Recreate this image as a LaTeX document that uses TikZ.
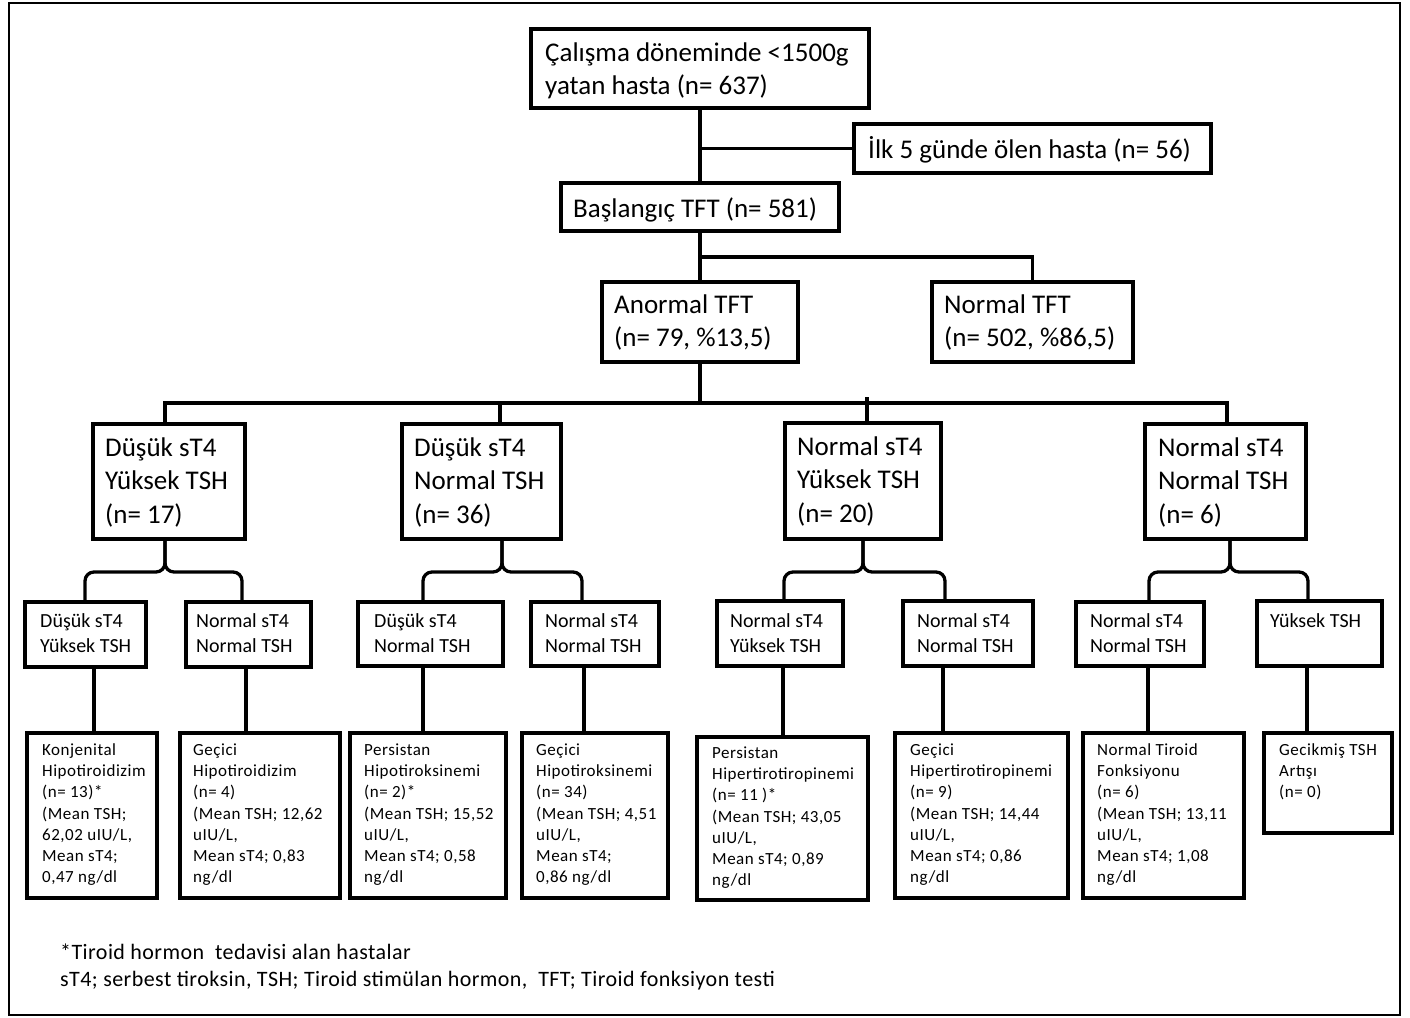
\documentclass[tikz,border=0pt]{standalone}
\usepackage{fontspec}
\setmainfont{Carlito}
\newfontfamily\smallfnt[LetterSpace=3]{Carlito}
\newfontfamily\footfnt[LetterSpace=2]{Carlito}
\newcommand\fntA{\fontsize{27}{33.5}\selectfont}
\newcommand\fntB{\fontsize{20}{25}\selectfont}
\newcommand\fntC{\smallfnt\fontsize{17}{21.2}\selectfont}
\newcommand\fntD{\footfnt\fontsize{22}{27.5}\selectfont}
\tikzset{
  boxst/.style={draw, line width=4pt, anchor=north west, inner sep=0pt, outer sep=0pt},
  txt/.style={anchor=base west, inner sep=0pt},
  conn/.style={draw, line width=3.3pt}
}
\newcommand\mybox[5]{\node[boxst, minimum width={#4-#2}, minimum height={#5-#3}] (#1) at (#2,#3) {};}
\newcommand\mytext[5]{\node[txt, font=#4] (#1t) at (#2,#3) {\begin{tabular}[t]{@{}l@{}}#5\end{tabular}};}
\newcommand\brc[6]{%
  \coordinate (#1s) at (#4,572); \coordinate (#1l) at (#5,572); \coordinate (#1r) at (#6,572);
  \draw[conn,rounded corners=9] (#1.south -| #1s) -- (#1s) -- (#1l) -- (#2.north -| #1l);
  \draw[conn,rounded corners=9] (#1.south -| #1s) -- (#1s) -- (#1r) -- (#3.north -| #1r);}
\newcommand\vc[3]{\coordinate (#1v) at (#3,0); \draw[conn] (#1.south -| #1v) -- (#2.north -| #1v);}
\begin{document}
\begin{tikzpicture}[x=1pt,y=-1pt]
\useasboundingbox (0,0) rectangle (1410,1017);
\draw[line width=1.3pt] (9,3) rectangle (1400,1015);

% top levels
\mybox{T0}{531}{29}{869}{108}
\mytext{T0}{545}{61}{\fntA}{Çalışma döneminde <1500g\\yatan hasta (n= 637)}
\mybox{D}{854}{124}{1211}{173}
\mytext{D}{868}{158}{\fntA}{İlk 5 günde ölen hasta (n= 56)}
\mybox{B}{561}{183}{839}{231}
\mytext{B}{573}{217}{\fntA}{Başlangıç TFT (n= 581)}
\mybox{A}{602}{282}{798}{362}
\mytext{A}{614}{313}{\fntA}{Anormal TFT\\(n= 79, \%13,5)}
\mybox{N}{932}{282}{1133}{362}
\mytext{N}{944}{313}{\fntA}{Normal TFT\\(n= 502, \%86,5)}

% level 3
\mybox{L3a}{93}{424}{245}{539}
\mytext{L3a}{105}{456}{\fntA}{Düşük sT4\\Yüksek TSH\\(n= 17)}
\mybox{L3b}{402}{424}{561}{539}
\mytext{L3b}{414}{456}{\fntA}{Düşük sT4\\Normal TSH\\(n= 36)}
\mybox{L3c}{785}{423}{941}{539}
\mytext{L3c}{797}{455}{\fntA}{Normal sT4\\Yüksek TSH\\(n= 20)}
\mybox{L3d}{1145}{424}{1306}{539}
\mytext{L3d}{1158}{456}{\fntA}{Normal sT4\\Normal TSH\\(n= 6)}

% level 4
\mybox{L4a}{25}{602}{146}{667}
\mytext{L4a}{40}{627.5}{\fntB}{Düşük sT4\\Yüksek TSH}
\mybox{L4b}{186}{602}{311}{667}
\mytext{L4b}{196}{627.5}{\fntB}{Normal sT4\\Normal TSH}
\mybox{L4c}{358}{602}{503}{666}
\mytext{L4c}{374}{627.5}{\fntB}{Düşük sT4\\Normal TSH}
\mybox{L4d}{531}{602}{659}{666}
\mytext{L4d}{545}{627.5}{\fntB}{Normal sT4\\Normal TSH}
\mybox{L4e}{717}{601}{843}{666}
\mytext{L4e}{730}{627.5}{\fntB}{Normal sT4\\Yüksek TSH}
\mybox{L4f}{903}{601}{1033}{666}
\mytext{L4f}{917}{627.5}{\fntB}{Normal sT4\\Normal TSH}
\mybox{L4g}{1076}{602}{1204}{666}
\mytext{L4g}{1090}{627.5}{\fntB}{Normal sT4\\Normal TSH}
\mybox{L4h}{1257}{601}{1382}{666}
\mytext{L4h}{1270}{627.5}{\fntB}{Yüksek TSH}

% level 5
\mybox{L5a}{27}{733}{157}{898}
\mytext{L5a}{42}{755.5}{\fntC}{Konjenital\\Hipotiroidizim\\(n= 13)*\\(Mean TSH;\\62,02 uIU/L,\\Mean sT4;\\0,47 ng/dl}
\mybox{L5b}{180}{733}{340}{898}
\mytext{L5b}{193}{755.5}{\fntC}{Geçici\\Hipotiroidizim\\(n= 4)\\(Mean TSH; 12,62\\uIU/L,\\Mean sT4; 0,83\\ng/dl}
\mybox{L5c}{350}{733}{506}{898}
\mytext{L5c}{364}{755.5}{\fntC}{Persistan\\Hipotiroksinemi\\(n= 2)*\\(Mean TSH; 15,52\\uIU/L,\\Mean sT4; 0,58\\ng/dl}
\mybox{L5d}{522}{733}{668}{898}
\mytext{L5d}{536}{755.5}{\fntC}{Geçici\\Hipotiroksinemi\\(n= 34)\\(Mean TSH; 4,51\\uIU/L,\\Mean sT4;\\0,86 ng/dl}
\mybox{L5e}{697}{737}{868}{900}
\mytext{L5e}{712}{758.5}{\fntC}{Persistan\\Hipertirotiropinemi\\(n= 11 )*\\(Mean TSH; 43,05\\uIU/L,\\Mean sT4; 0,89\\ng/dl}
\mybox{L5f}{895}{733}{1068}{898}
\mytext{L5f}{910}{755.5}{\fntC}{Geçici\\Hipertirotiropinemi\\(n= 9)\\(Mean TSH; 14,44\\uIU/L,\\Mean sT4; 0,86\\ng/dl}
\mybox{L5g}{1083}{733}{1244}{898}
\mytext{L5g}{1097}{755.5}{\fntC}{Normal Tiroid\\Fonksiyonu\\(n= 6)\\(Mean TSH; 13,11\\uIU/L,\\Mean sT4; 1,08\\ng/dl}
\mybox{L5h}{1264}{733}{1392}{833}
\mytext{L5h}{1279}{755.5}{\fntC}{Gecikmiş TSH\\Artışı\\(n= 0)}

% footer
\node[txt, font=\fntD] (f1) at (60,959) {*Tiroid hormon\ \ tedavisi alan hastalar};
\node[txt, font=\fntD] (f2) at (60,986.5) {sT4; serbest tiroksin, TSH; Tiroid stimülan hormon,\ \ TFT; Tiroid fonksiyon testi};

% connectors top
\draw[conn] (T0.south) -- (B.north);
\draw[conn] (D.west) -- (D.west -| B.north);
\draw[conn] (B.south) -- (A.north);
\draw[conn] (B.south) -- ++(0,26) -| (N.north);
\coordinate (b1) at (165,403);
\coordinate (b2) at (500,403);
\coordinate (b3) at (867,403);
\coordinate (b4) at (1227,403);
\draw[conn] (A.south) -- (A.south |- b1);
\draw[conn] (L3a.north -| b1) -- (b1) -- (b4) -- (L3d.north -| b4);
\draw[conn] (b2) -- (L3b.north -| b2);
\draw[conn] ([yshift=6pt]b3) -- (L3c.north -| b3);

% braces
\brc{L3a}{L4a}{L4b}{165}{85}{242}
\brc{L3b}{L4c}{L4d}{502}{423}{582}
\brc{L3c}{L4e}{L4f}{863}{784}{945}
\brc{L3d}{L4g}{L4h}{1230}{1149}{1308}

% level 4 to 5
\vc{L4a}{L5a}{94}
\vc{L4b}{L5b}{246}
\vc{L4c}{L5c}{423}
\vc{L4d}{L5d}{584}
\vc{L4e}{L5e}{783}
\vc{L4f}{L5f}{943}
\vc{L4g}{L5g}{1148}
\vc{L4h}{L5h}{1307}
\end{tikzpicture}
\end{document}
